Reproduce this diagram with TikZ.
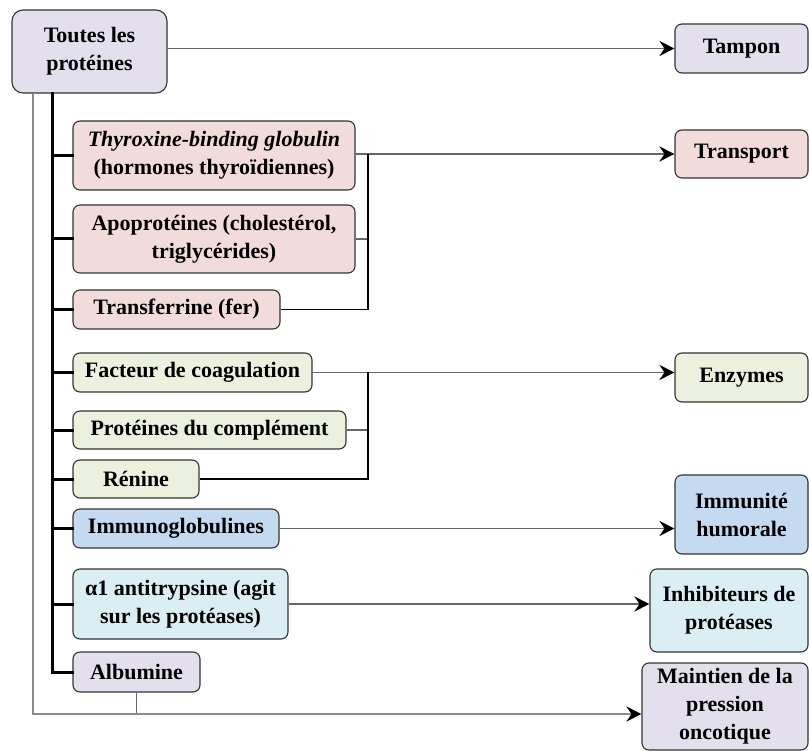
\documentclass[tikz,border=0pt]{standalone}
\usepackage{fontspec}
\setmainfont{Liberation Serif}
\usetikzlibrary{arrows.meta}
\definecolor{lilas}{HTML}{E4DFEC}
\definecolor{rose}{HTML}{F2DCDB}
\definecolor{vert}{HTML}{EBF1DE}
\definecolor{bleu}{HTML}{C5D9F1}
\definecolor{ciel}{HTML}{DAEEF3}
\begin{document}
\begin{tikzpicture}[x=1pt, y=-1pt,
	box/.style={draw=black!80, line width=1.1pt, rounded corners=7pt, align=center, inner sep=0pt,
		font=\fontsize{22}{28}\selectfont\bfseries},
	trunk/.style={line width=3pt, line cap=rect},
	conn/.style={draw=black!60, line width=1.8pt},
	arr/.style={conn, -{Stealth[length=15pt, width=15pt, inset=5pt, black]}}]
			%%%%% START %%%%%
			
			\useasboundingbox (0, 0) rectangle (809, 751);
			
			\coordinate (tk) at (52, 0);
			\coordinate (tl) at (33, 0);
			\coordinate (br) at (368, 0);
			
			\node[box, fill=lilas, rounded corners=11pt, minimum width=155, minimum height=83] (root) at (89.5, 51.5) {Toutes les\\protéines};
			
			\node[box, fill=rose, minimum width=282, minimum height=69] (tbg) at (214, 155.5) {\textit{Thyroxine-binding globulin}\\(hormones thyroïdiennes)};
			\node[box, fill=rose, minimum width=282, minimum height=68] (apo) at (214, 239) {Apoprotéines (cholestérol,\\triglycérides)};
			\node[box, fill=rose, minimum width=207, minimum height=39] (transf) at (176.5, 309.5) {Transferrine (fer)};
			
			\node[box, fill=vert, minimum width=239, minimum height=39] (facteur) at (192.5, 372.5) {Facteur de coagulation};
			\node[box, fill=vert, minimum width=273, minimum height=38] (compl) at (209.5, 430) {Protéines du complément};
			\node[box, fill=vert, minimum width=126, minimum height=38] (renine) at (136, 479) {Rénine};
			
			\node[box, fill=bleu, minimum width=206, minimum height=39] (immuno) at (176, 528.5) {Immunoglobulines};
			\node[box, fill=ciel, minimum width=215, minimum height=70] (alpha) at (180.5, 604) {α1 antitrypsine (agit\\sur les protéases)};
			\node[box, fill=lilas, minimum width=127, minimum height=40] (albumine) at (136.5, 672) {Albumine};
			
			\node[box, fill=lilas, minimum width=133, minimum height=49] (tampon) at (741.5, 48.5) {Tampon};
			\node[box, fill=rose, minimum width=133, minimum height=48] (transport) at (741.5, 154) {Transport};
			\node[box, fill=vert, minimum width=133, minimum height=49] (enzymes) at (741.5, 377.5) {Enzymes};
			\node[box, fill=bleu, minimum width=133, minimum height=79] (immunite) at (741.5, 514.5) {Immunité\\humorale};
			\node[box, fill=ciel, minimum width=158, minimum height=83] (inhib) at (729, 610.5) {Inhibiteurs de\\protéases};
			\node[box, fill=lilas, minimum width=166, minimum height=87] (maintien) at (725, 706.5) {Maintien de la\\pression\\oncotique};
			
			% tronc
			\draw[trunk] (root.south -| tk) -- (albumine.west -| tk) -- (albumine.west);
			\foreach \n in {tbg, apo, transf, facteur, compl, renine, immuno, alpha}
				\draw[trunk] (\n.west -| tk) -- (\n.west);
			
			% tampon
			\draw[arr] (tampon.west -| root.east) -- (tampon.west);
			
			% transport
			\draw[arr] (transport.west -| tbg.east) -- (transport.west);
			\draw[conn] (apo.east) -- (apo.east -| br);
			\draw[conn, draw=black] (transf.east) -| (transport.west -| br);
			
			% enzymes
			\draw[arr] (facteur.east) -- (facteur.east -| enzymes.west);
			\draw[conn] (compl.east) -- (compl.east -| br);
			\draw[conn, draw=black] (renine.east) -| (facteur.east -| br);
			
			\draw[arr] (immuno.east) -- (immuno.east -| immunite.west);
			\draw[arr] (alpha.east) -- (alpha.east -| inhib.west);
			
			% pression oncotique
			\coordinate (bas) at (33, 714);
			\draw[conn] (albumine.south) -- (albumine.south |- bas);
			\draw[arr, draw=black!45] (root.south -| tl) -- (bas) -- (bas -| maintien.west);
			
			%%%%% END %%%%%
\end{tikzpicture}
\end{document}
